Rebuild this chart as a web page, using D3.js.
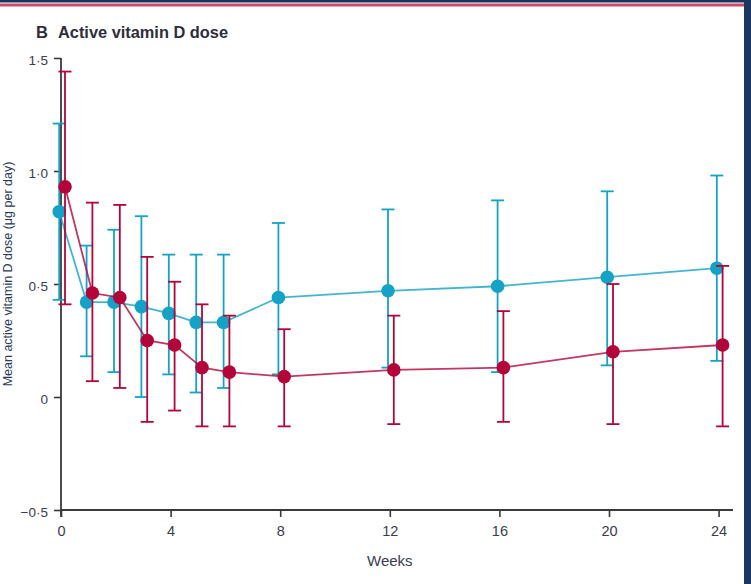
<!DOCTYPE html>
<html>
<head>
<meta charset="utf-8">
<script src="https://cdn.jsdelivr.net/npm/d3@7"></script>
<style>
  html, body { margin: 0; padding: 0; background: #fff; }
  svg { display: block; }
  text { font-family: "Liberation Sans", Arial, sans-serif; }
</style>
</head>
<body>
<svg id="chart" width="751" height="584"></svg>
<script>
// weeks of follow-up
var weeks = [0, 1, 2, 3, 4, 5, 6, 8, 12, 16, 20, 24];

// blue group: mean and error bar ends (ug per day)
var blueMean  = [0.82, 0.42, 0.42, 0.40, 0.37, 0.33, 0.33, 0.44, 0.47, 0.49, 0.53, 0.57];
var blueLower = [0.43, 0.18, 0.11, 0.00, 0.10, 0.02, 0.04, 0.10, 0.13, 0.11, 0.14, 0.16];
var blueUpper = [1.21, 0.67, 0.74, 0.80, 0.63, 0.63, 0.63, 0.77, 0.83, 0.87, 0.91, 0.98];

// red group
var redMean  = [0.93, 0.46, 0.44, 0.25, 0.23, 0.13, 0.11, 0.09, 0.12, 0.13, 0.20, 0.23];
var redLower = [0.41, 0.07, 0.04, -0.11, -0.06, -0.13, -0.13, -0.13, -0.12, -0.11, -0.12, -0.13];
var redUpper = [1.44, 0.86, 0.85, 0.62, 0.51, 0.41, 0.36, 0.30, 0.36, 0.38, 0.50, 0.58];

var xTicks = [0, 4, 8, 12, 16, 20, 24];
var yTicks = [-0.5, 0, 0.5, 1.0, 1.5];

var title = "Active vitamin D dose";
var panel = "B";
var xLabel = "Weeks";
var yLabel = "Mean active vitamin D dose (\u03bcg per day)";

var svg = d3.select("#chart");

// frame: navy band on top and right, red rule under the top band
svg.append("rect").attr("x", 0).attr("y", 0).attr("width", 751).attr("height", 2.5).attr("fill", "#1b365f");
svg.append("rect").attr("x", 0).attr("y", 3.5).attr("width", 744).attr("height", 3).attr("fill", "#d2486b");
svg.append("rect").attr("x", 744).attr("y", 0).attr("width", 7).attr("height", 584).attr("fill", "#1b365f");

var x = d3.scaleLinear().domain([0, 24]).range([61, 718.6]);
var y = d3.scaleLinear().domain([-0.5, 1.5]).range([510, 58]);

var axisColor = "#3a3a3a";
var labelColor = "#3c3c4c";
var fmt = function(v) {
  if (v === 0) return "0";
  return d3.format(".1f")(v).replace(".", "\u00b7").replace("-", "\u2212");
};

// y axis
var yAxis = svg.append("g")
  .attr("transform", "translate(61,0)")
  .call(d3.axisLeft(y).tickValues(yTicks).tickFormat(fmt).tickSize(7).tickSizeOuter(0));
yAxis.select(".domain").attr("stroke", axisColor).attr("stroke-width", 1.8)
  .attr("d", "M0," + y(1.5) + "V" + (y(-0.5) + 7));
yAxis.selectAll(".tick line").attr("stroke", axisColor).attr("stroke-width", 1.6);
yAxis.selectAll(".tick text")
  .attr("fill", labelColor).attr("font-size", 13.5).attr("x", -13).attr("dy", "0.45em");

// x axis
var xAxis = svg.append("g")
  .attr("transform", "translate(0," + y(-0.5) + ")")
  .call(d3.axisBottom(x).tickValues(xTicks).tickSize(7).tickSizeOuter(0));
xAxis.select(".domain").attr("stroke", axisColor).attr("stroke-width", 1.8)
  .attr("d", "M" + x(0) + ",0H733");
xAxis.selectAll(".tick line").attr("stroke", axisColor).attr("stroke-width", 1.6);
xAxis.selectAll(".tick text")
  .attr("fill", labelColor).attr("font-size", 14.5).attr("y", 16);

// axis titles
svg.append("text")
  .attr("x", x(12)).attr("y", 566)
  .attr("text-anchor", "middle")
  .attr("font-size", 15)
  .attr("fill", labelColor)
  .text(xLabel);

svg.append("text")
  .attr("transform", "translate(12,274) rotate(-90)")
  .attr("text-anchor", "middle")
  .attr("font-size", 12.5)
  .attr("fill", "#2b3a5c")
  .text(yLabel);

// panel title
svg.append("text")
  .attr("x", 36).attr("y", 38)
  .attr("font-size", 16.5).attr("font-weight", "bold")
  .attr("fill", "#2e2e3a")
  .text(panel);
svg.append("text")
  .attr("x", 58).attr("y", 38)
  .attr("font-size", 16).attr("font-weight", "bold")
  .attr("fill", "#2e2e3a")
  .attr("textLength", 170)
  .attr("lengthAdjust", "spacingAndGlyphs")
  .text(title);

function drawSeries(mean, lower, upper, color, dx) {
  var g = svg.append("g");
  var pts = weeks.map(function(w, i) {
    return {w: w, m: mean[i], lo: lower[i], hi: upper[i]};
  });

  var line = d3.line()
    .x(function(d) { return x(d.w) + dx; })
    .y(function(d) { return y(d.m); });

  g.append("path")
    .datum(pts)
    .attr("d", line)
    .attr("fill", "none")
    .attr("stroke", color)
    .attr("stroke-opacity", 0.8)
    .attr("stroke-width", 1.8);

  var bars = g.selectAll("g.err").data(pts).enter().append("g").attr("class", "err")
    .attr("stroke", color).attr("stroke-width", 1.8);
  bars.append("line")
    .attr("x1", function(d) { return x(d.w) + dx; })
    .attr("x2", function(d) { return x(d.w) + dx; })
    .attr("y1", function(d) { return y(d.lo); })
    .attr("y2", function(d) { return y(d.hi); });
  bars.append("line")
    .attr("x1", function(d) { return x(d.w) + dx - 6.5; })
    .attr("x2", function(d) { return x(d.w) + dx + 6.5; })
    .attr("y1", function(d) { return y(d.hi); })
    .attr("y2", function(d) { return y(d.hi); });
  bars.append("line")
    .attr("x1", function(d) { return x(d.w) + dx - 6.5; })
    .attr("x2", function(d) { return x(d.w) + dx + 6.5; })
    .attr("y1", function(d) { return y(d.lo); })
    .attr("y2", function(d) { return y(d.lo); });

  g.selectAll("circle").data(pts).enter().append("circle")
    .attr("cx", function(d) { return x(d.w) + dx; })
    .attr("cy", function(d) { return y(d.m); })
    .attr("r", 6.8)
    .attr("fill", color);
}

// the two groups are nudged apart horizontally, as in the original
drawSeries(blueMean, blueLower, blueUpper, "#14a3c7", -1.8);
drawSeries(redMean, redLower, redUpper, "#b3053a", 4);
</script>
</body>
</html>
